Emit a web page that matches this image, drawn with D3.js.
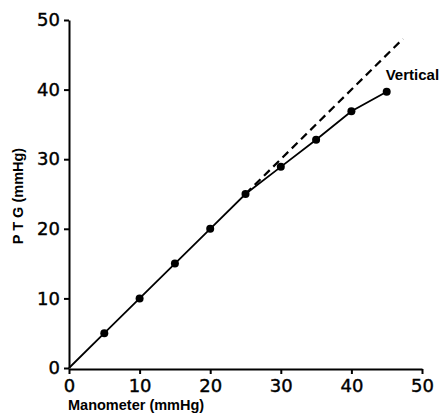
<!DOCTYPE html>
<html><head><meta charset="utf-8">
<script src="https://cdn.jsdelivr.net/npm/d3@7"></script>
<style>body{margin:0;background:#fff}</style>
</head><body>
<svg id="c" width="443" height="413"></svg>
<script>
const manometer = [5, 10, 15, 20, 25, 30, 35, 40, 45];
const ptg = [5, 10, 15, 20, 25, 28.9, 32.8, 36.9, 39.7];
const identityLine = [[25, 25], [47.3, 47.3]];
const ticks = [0, 10, 20, 30, 40, 50];
const seriesLabel = "Vertical";
const xTitle = "Manometer (mmHg)";
const yTitle = "P T G (mmHg)";

const svg = d3.select("#c");
const x = d3.scaleLinear().domain([0, 50]).range([69, 422]);
const y = d3.scaleLinear().domain([0, 50]).range([368, 20]);
const font = "'DejaVu Sans', sans-serif";
const tfont = "'Liberation Sans', Arial, sans-serif";

// x axis
const xa = svg.append("g").attr("transform", "translate(0,369)")
  .call(d3.axisBottom(x).tickValues(ticks).tickSize(5).tickSizeOuter(0).tickPadding(5));
xa.select(".domain").attr("stroke-width", 2);
xa.selectAll(".tick line").attr("stroke-width", 2);
xa.selectAll(".tick text").attr("font-family", font).attr("font-size", 18).attr("fill", "#000")
  .attr("stroke", "#000").attr("stroke-width", 0.4);

// y axis
const ya = svg.append("g").attr("transform", "translate(69,0)")
  .call(d3.axisLeft(y).tickValues(ticks).tickSize(5).tickSizeOuter(0).tickPadding(4));
ya.select(".domain").attr("stroke-width", 2);
ya.selectAll(".tick line").attr("stroke-width", 2);
ya.selectAll(".tick text").attr("font-family", font).attr("font-size", 18).attr("fill", "#000")
  .attr("stroke", "#000").attr("stroke-width", 0.4);

// dashed identity line
svg.append("path").datum(identityLine)
  .attr("d", d3.line().x(d => x(d[0])).y(d => y(d[1])))
  .attr("fill", "none").attr("stroke", "#000").attr("stroke-width", 2.2)
  .attr("stroke-dasharray", "8,5");

// solid data line from origin
const pts = [[0, 0]].concat(manometer.map((m, i) => [m, ptg[i]]));
svg.append("path").datum(pts)
  .attr("d", d3.line().x(d => x(d[0])).y(d => y(d[1])))
  .attr("fill", "none").attr("stroke", "#000").attr("stroke-width", 1.8);

svg.selectAll("circle.p").data(manometer).join("circle")
  .attr("cx", d => x(d)).attr("cy", (d, i) => y(ptg[i])).attr("r", 4).attr("fill", "#000");

svg.append("text").attr("x", x(45) - 1).attr("y", y(41.4))
  .attr("font-family", tfont).attr("font-weight", "bold").attr("font-size", 15)
  .text(seriesLabel);

svg.append("text").attr("x", 68).attr("y", 410)
  .attr("font-family", tfont).attr("font-weight", "bold").attr("font-size", 14.5)
  .text(xTitle);

svg.append("text").attr("transform", "translate(23,196) rotate(-90)")
  .attr("text-anchor", "middle")
  .attr("font-family", tfont).attr("font-weight", "bold").attr("font-size", 14.5)
  .text(yTitle);
</script>
</body></html>
